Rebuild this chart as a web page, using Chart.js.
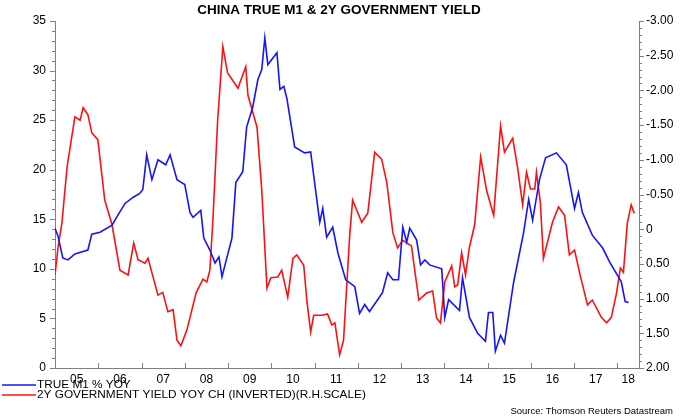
<!DOCTYPE html>
<html>
<head>
<meta charset="utf-8">
<script src="https://cdn.jsdelivr.net/npm/chart.js@4"></script>
<style>
  html, body { margin: 0; padding: 0; background: #fff; }
  #wrap { width: 680px; height: 420px; }
</style>
</head>
<body>
<div id="wrap"><canvas id="chart"></canvas></div>
<script>
const m1Dates = [2005.00, 2005.07, 2005.18, 2005.30, 2005.46, 2005.76, 2005.85, 2006.04, 2006.32, 2006.45, 2006.62, 2006.80, 2006.96, 2007.03, 2007.12, 2007.24, 2007.38, 2007.56, 2007.66, 2007.82, 2007.89, 2008.00, 2008.12, 2008.19, 2008.37, 2008.44, 2008.58, 2008.70, 2008.79, 2008.86, 2009.09, 2009.18, 2009.34, 2009.43, 2009.57, 2009.69, 2009.78, 2009.85, 2009.92, 2010.13, 2010.20, 2010.29, 2010.36, 2010.54, 2010.77, 2010.91, 2011.12, 2011.19, 2011.28, 2011.42, 2011.54, 2011.72, 2011.93, 2012.04, 2012.16, 2012.27, 2012.57, 2012.69, 2012.81, 2012.94, 2013.04, 2013.13, 2013.20, 2013.36, 2013.45, 2013.55, 2013.66, 2013.94, 2014.01, 2014.10, 2014.35, 2014.42, 2014.58, 2014.77, 2014.95, 2015.02, 2015.12, 2015.18, 2015.30, 2015.39, 2015.60, 2015.83, 2015.95, 2016.04, 2016.20, 2016.34, 2016.59, 2016.82, 2017.01, 2017.10, 2017.19, 2017.42, 2017.66, 2017.82, 2018.09, 2018.18, 2018.26];
const m1Values = [14.1, 13.3, 11.1, 10.9, 11.5, 11.9, 13.5, 13.7, 14.4, 15.4, 16.6, 17.2, 17.6, 18.0, 21.5, 19.0, 21.0, 20.5, 21.5, 19.0, 18.8, 18.5, 15.7, 15.2, 15.9, 13.1, 11.9, 10.6, 11.2, 9.2, 13.1, 18.7, 19.8, 24.3, 26.3, 29.1, 30.1, 33.3, 30.6, 31.8, 28.1, 28.4, 27.2, 22.3, 21.7, 21.8, 14.7, 16.1, 13.2, 14.2, 11.6, 8.9, 8.2, 5.5, 6.4, 5.7, 7.6, 9.6, 8.9, 8.9, 14.2, 12.7, 14.1, 12.9, 10.4, 10.9, 10.4, 10.0, 5.1, 6.9, 5.8, 9.1, 5.1, 3.5, 2.7, 5.6, 5.6, 1.7, 3.3, 2.5, 8.6, 13.6, 17.0, 14.9, 19.0, 21.2, 21.7, 20.5, 16.1, 17.7, 15.7, 13.4, 12.1, 10.7, 8.7, 6.7, 6.6];

const yieldDates = [2005.00, 2005.07, 2005.16, 2005.28, 2005.46, 2005.58, 2005.65, 2005.76, 2005.85, 2005.99, 2006.15, 2006.32, 2006.50, 2006.69, 2006.82, 2006.92, 2007.08, 2007.15, 2007.38, 2007.49, 2007.61, 2007.73, 2007.82, 2007.91, 2008.05, 2008.26, 2008.42, 2008.51, 2008.58, 2008.65, 2008.76, 2008.88, 2008.99, 2009.23, 2009.32, 2009.41, 2009.46, 2009.67, 2009.78, 2009.90, 2009.99, 2010.15, 2010.24, 2010.38, 2010.50, 2010.59, 2010.75, 2010.82, 2010.91, 2010.98, 2011.17, 2011.30, 2011.40, 2011.47, 2011.58, 2011.67, 2011.81, 2011.88, 2012.09, 2012.23, 2012.39, 2012.55, 2012.67, 2012.81, 2012.92, 2013.04, 2013.24, 2013.41, 2013.59, 2013.73, 2013.82, 2013.91, 2014.01, 2014.17, 2014.24, 2014.31, 2014.40, 2014.49, 2014.58, 2014.70, 2014.84, 2014.98, 2015.14, 2015.30, 2015.39, 2015.58, 2015.69, 2015.81, 2015.90, 2015.99, 2016.09, 2016.13, 2016.22, 2016.29, 2016.50, 2016.64, 2016.78, 2016.89, 2017.01, 2017.15, 2017.31, 2017.42, 2017.63, 2017.75, 2017.86, 2017.98, 2018.07, 2018.14, 2018.23, 2018.32, 2018.39];
const yieldValues = [0.66, 0.26, -0.09, -0.90, -1.62, -1.57, -1.75, -1.65, -1.39, -1.29, -0.42, -0.06, 0.59, 0.66, 0.20, 0.44, 0.49, 0.42, 0.95, 0.91, 1.19, 1.16, 1.60, 1.68, 1.45, 0.92, 0.72, 0.76, 0.59, -0.13, -1.57, -2.63, -2.25, -2.03, -2.19, -2.34, -1.93, -1.47, -0.56, 0.85, 0.70, 0.69, 0.59, 0.98, 0.42, 0.37, 0.52, 1.02, 1.48, 1.24, 1.24, 1.22, 1.38, 1.35, 1.81, 1.60, 0.11, -0.42, -0.10, -0.23, -1.11, -1.01, -0.67, 0.05, 0.27, 0.16, 0.24, 1.02, 0.92, 0.89, 1.28, 1.35, 0.76, 0.53, 0.83, 0.80, 0.34, 0.66, 0.26, -0.06, -1.04, -0.55, -0.20, -1.49, -1.11, -1.31, -0.90, -0.35, -0.82, -0.58, -0.58, -0.82, -0.38, 0.42, -0.10, -0.32, -0.20, 0.37, 0.30, 0.69, 1.09, 1.02, 1.27, 1.35, 1.27, 0.92, 0.56, 0.62, -0.09, -0.35, -0.23];

const yearTickPos = [2005.5, 2006.5, 2007.5, 2008.5, 2009.5, 2010.5, 2011.5, 2012.5, 2013.5, 2014.5, 2015.5, 2016.5, 2017.5, 2018.25];
const yearLabels = ['05', '06', '07', '08', '09', '10', '11', '12', '13', '14', '15', '16', '17', '18'];

const seriesLabels = ['TRUE M1 % YOY', '2Y GOVERNMENT YIELD YOY CH (INVERTED)(R.H.SCALE)'];
const titleText = 'CHINA TRUE M1 & 2Y GOVERNMENT YIELD';
const sourceText = 'Source: Thomson Reuters Datastream';

const axisColor = '#808080';
const textColor = '#000';
const font = 'Liberation Sans, Arial, sans-serif';

const toPoints = (xs, ys) => xs.map((x, i) => ({ x, y: ys[i] }));

const decorPlugin = {
  id: 'decor',
  afterDraw(chart) {
    const ctx = chart.ctx;
    const { left, right, bottom } = chart.chartArea;
    const yl = chart.scales.y;
    const yr = chart.scales.y2;
    const x = chart.scales.x;
    ctx.save();
    ctx.strokeStyle = axisColor;
    ctx.lineWidth = 1;
    ctx.beginPath();
    // minor ticks, left scale every 1
    for (let v = 0; v <= 35; v++) {
      const p = Math.round(yl.getPixelForValue(v)) + 0.5;
      const len = v % 5 === 0 ? 5 : 3;
      ctx.moveTo(left - len, p); ctx.lineTo(left, p);
    }
    // minor ticks, right scale every 0.1
    for (let i = -30; i <= 20; i++) {
      const p = Math.round(yr.getPixelForValue(i / 10)) + 0.5;
      const len = i % 5 === 0 ? 5 : 3;
      ctx.moveTo(right, p); ctx.lineTo(right + len, p);
    }
    // year ticks
    for (let yr0 = 2005; yr0 <= 2018; yr0++) {
      const p = Math.round(x.getPixelForValue(yr0)) + 0.5;
      ctx.moveTo(p, bottom); ctx.lineTo(p, bottom - 5);
    }
    ctx.stroke();

    // title
    ctx.fillStyle = textColor;
    ctx.font = 'bold 13.5px ' + font;
    ctx.textAlign = 'center';
    ctx.textBaseline = 'middle';
    ctx.fillText(titleText, 339, 10);

    // legend
    ctx.font = '11.8px ' + font;
    ctx.textAlign = 'left';
    const colors = ['#1414ff', '#ff1010'];
    seriesLabels.forEach((lab, i) => {
      const yy = 385 + i * 10;
      ctx.strokeStyle = colors[i];
      ctx.lineWidth = 1.5;
      ctx.beginPath(); ctx.moveTo(2, yy); ctx.lineTo(36, yy); ctx.stroke();
      ctx.fillText(lab, 37, yy);
    });

    // source
    ctx.font = '9.5px ' + font;
    ctx.textAlign = 'right';
    ctx.fillText(sourceText, 673, 411);
    ctx.restore();
  }
};

new Chart(document.getElementById('chart'), {
  type: 'line',
  data: {
    datasets: [
      {
        label: seriesLabels[0],
        data: toPoints(m1Dates, m1Values),
        borderColor: '#1414ff',
        borderWidth: 1.6,
        pointRadius: 0,
        tension: 0,
        yAxisID: 'y'
      },
      {
        label: seriesLabels[1],
        data: toPoints(yieldDates, yieldValues),
        borderColor: '#ff1010',
        borderWidth: 1.6,
        pointRadius: 0,
        tension: 0,
        yAxisID: 'y2'
      }
    ]
  },
  options: {
    responsive: true,
    maintainAspectRatio: false,
    animation: false,
    layout: { padding: { top: 21, left: 0, right: 0, bottom: 0 } },
    plugins: { legend: { display: false }, tooltip: { enabled: false } },
    scales: {
      x: {
        type: 'linear',
        min: 2005,
        max: 2018.5,
        afterBuildTicks: (s) => { s.ticks = yearTickPos.map(v => ({ value: v })); },
        afterFit: (s) => { s.height = 52; },
        grid: { display: false, drawTicks: false },
        border: { color: axisColor },
        ticks: {
          color: textColor,
          font: { size: 12, family: font },
          padding: 4,
          maxRotation: 0,
          autoSkip: false,
          callback: (v, i) => yearLabels[i]
        }
      },
      y: {
        position: 'left',
        min: 0,
        max: 35,
        afterFit: (s) => { s.width = 55; },
        grid: { display: false, drawTicks: false },
        border: { color: axisColor },
        ticks: { stepSize: 5, color: textColor, font: { size: 12, family: font }, padding: 9 }
      },
      y2: {
        position: 'right',
        reverse: true,
        min: -3,
        max: 2,
        afterFit: (s) => { s.width = 41; },
        grid: { display: false, drawTicks: false },
        border: { color: axisColor },
        ticks: {
          stepSize: 0.5,
          color: textColor,
          font: { size: 12, family: font },
          padding: 7,
          callback: (v) => v === 0 ? '0' : v.toFixed(2)
        }
      }
    }
  },
  plugins: [decorPlugin]
});
</script>
</body>
</html>
